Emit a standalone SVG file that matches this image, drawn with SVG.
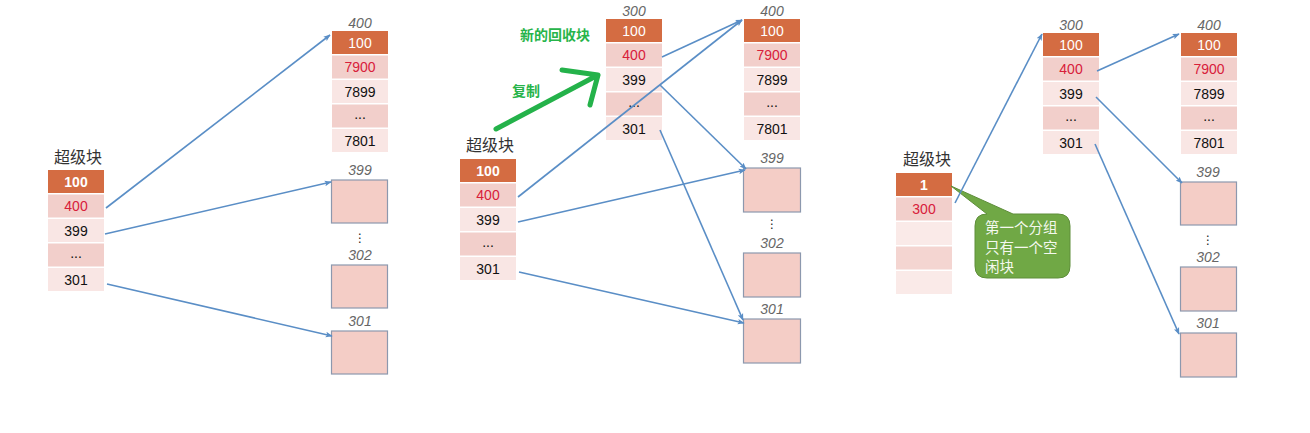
<svg xmlns="http://www.w3.org/2000/svg" width="1310" height="433" viewBox="0 0 1310 433">
<style>
.o{fill:#D46C42}
.m{fill:#F2CFCB}
.l{fill:#F9E6E4}
.box{fill:#F4CDC6;stroke:#8C98AE;stroke-width:1.2}
.t{font-family:"Liberation Sans","Noto Sans",sans-serif;font-size:14px;fill:#111;text-anchor:middle}
.w{fill:#fff}
.b{font-weight:bold}
.r{fill:#D8203A}
.lab{font-family:"Liberation Sans",sans-serif;font-size:14px;font-style:italic;fill:#666;text-anchor:middle}
.cjk{font-family:"Liberation Sans","Noto Sans CJK SC",sans-serif;font-size:16px;fill:#333;text-anchor:middle}
.dots{font-family:"DejaVu Sans",sans-serif;font-size:12px;fill:#222;text-anchor:middle}
.g{font-family:"Noto Sans CJK SC",sans-serif;font-size:14px;font-weight:bold;fill:#27B44A}
.c{stroke:#5A8EC6;stroke-width:1.6;fill:none;marker-end:url(#ah)}
.call{font-family:"Noto Sans CJK SC",sans-serif;font-size:14.5px;fill:#F4F8EE}
</style>
<defs>
<marker id="ah" viewBox="0 0 10 10" refX="9" refY="5" markerWidth="7" markerHeight="7" markerUnits="userSpaceOnUse" orient="auto">
<path d="M0,1 L10,5 L0,9 L2,5 Z" fill="#5A8EC6"/>
</marker>
</defs>

<!-- ===== LEFT ===== -->
<g id="left-super">
<text class="cjk" x="78" y="163">超级块</text>
<rect class="o" x="48" y="170" width="56" height="23"/><text class="t w b" x="76" y="186.5">100</text>
<rect class="m" x="48" y="194.5" width="56" height="23"/><text class="t r" x="76" y="211">400</text>
<rect class="l" x="48" y="219" width="56" height="23"/><text class="t" x="76" y="235.5">399</text>
<rect class="m" x="48" y="243.5" width="56" height="23"/><text class="t" x="76" y="258">...</text>
<rect class="l" x="48" y="268" width="56" height="23"/><text class="t" x="76" y="284.5">301</text>
</g>
<g id="left-400">
<text class="lab" x="360" y="28">400</text>
<rect class="o" x="332" y="31" width="56" height="23"/><text class="t w" x="360" y="47.5">100</text>
<rect class="m" x="332" y="55.5" width="56" height="23"/><text class="t r" x="360" y="72">7900</text>
<rect class="l" x="332" y="80" width="56" height="23"/><text class="t" x="360" y="96.5">7899</text>
<rect class="m" x="332" y="104.5" width="56" height="23"/><text class="t" x="360" y="119">...</text>
<rect class="l" x="332" y="129" width="56" height="23"/><text class="t" x="360" y="145.5">7801</text>
</g>
<g id="left-399"><text class="lab" x="360" y="175">399</text><rect class="box" x="331.5" y="180" width="56" height="43"/></g>
<text class="dots" x="360" y="242">⋮</text>
<g id="left-302"><text class="lab" x="360" y="260">302</text><rect class="box" x="331.5" y="265" width="56" height="43"/></g>
<g id="left-301"><text class="lab" x="360" y="326">301</text><rect class="box" x="331.5" y="331" width="56" height="43"/></g>

<!-- ===== MIDDLE ===== -->
<g id="mid-super">
<text class="cjk" x="490" y="151">超级块</text>
<rect class="o" x="460" y="159" width="56" height="23"/><text class="t w b" x="488" y="175.5">100</text>
<rect class="m" x="460" y="183.5" width="56" height="23"/><text class="t r" x="488" y="200">400</text>
<rect class="l" x="460" y="208" width="56" height="23"/><text class="t" x="488" y="224.5">399</text>
<rect class="m" x="460" y="232.5" width="56" height="23"/><text class="t" x="488" y="247">...</text>
<rect class="l" x="460" y="257" width="56" height="23"/><text class="t" x="488" y="273.5">301</text>
</g>
<g id="mid-300">
<text class="lab" x="634" y="16">300</text>
<rect class="o" x="606" y="19" width="56" height="23"/><text class="t w" x="634" y="35.5">100</text>
<rect class="m" x="606" y="43.5" width="56" height="23"/><text class="t r" x="634" y="60">400</text>
<rect class="l" x="606" y="68" width="56" height="23"/><text class="t" x="634" y="84.5">399</text>
<rect class="m" x="606" y="92.5" width="56" height="23"/><text class="t" x="634" y="107">...</text>
<rect class="l" x="606" y="117" width="56" height="23"/><text class="t" x="634" y="133.5">301</text>
</g>
<g id="mid-400">
<text class="lab" x="772" y="16">400</text>
<rect class="o" x="744" y="19" width="56" height="23"/><text class="t w" x="772" y="35.5">100</text>
<rect class="m" x="744" y="43.5" width="56" height="23"/><text class="t r" x="772" y="60">7900</text>
<rect class="l" x="744" y="68" width="56" height="23"/><text class="t" x="772" y="84.5">7899</text>
<rect class="m" x="744" y="92.5" width="56" height="23"/><text class="t" x="772" y="107">...</text>
<rect class="l" x="744" y="117" width="56" height="23"/><text class="t" x="772" y="133.5">7801</text>
</g>
<g id="mid-399"><text class="lab" x="772" y="163">399</text><rect class="box" x="743.5" y="168" width="57" height="44"/></g>
<text class="dots" x="772" y="228">⋮</text>
<g id="mid-302"><text class="lab" x="772" y="248">302</text><rect class="box" x="743.5" y="253" width="57" height="44"/></g>
<g id="mid-301"><text class="lab" x="772" y="314">301</text><rect class="box" x="743.5" y="319" width="57" height="44"/></g>
<g id="mid-notes">
<text class="g" x="520" y="40">新的回收块</text>
<text class="g" x="512" y="96">复制</text>
<path d="M496,129 L598,75 M562,70 L598,75 L590,105" fill="none" stroke="#24B24A" stroke-width="5" stroke-linecap="round" stroke-linejoin="round"/>
</g>

<!-- ===== RIGHT ===== -->
<g id="right-super">
<text class="cjk" x="927" y="165">超级块</text>
<rect class="o" x="896" y="173" width="56" height="23"/><text class="t w b" x="924" y="189.5">1</text>
<rect class="m" x="896" y="197.5" width="56" height="23"/><text class="t r" x="924" y="214">300</text>
<rect fill="#FAEAE8" x="896" y="222" width="56" height="23"/>
<rect fill="#F4D5D1" x="896" y="246.5" width="56" height="23"/>
<rect fill="#FAEAE8" x="896" y="271" width="56" height="23"/>
</g>
<g id="right-300">
<text class="lab" x="1071" y="30">300</text>
<rect class="o" x="1043" y="33" width="56" height="23"/><text class="t w" x="1071" y="49.5">100</text>
<rect class="m" x="1043" y="57.5" width="56" height="23"/><text class="t r" x="1071" y="74">400</text>
<rect class="l" x="1043" y="82" width="56" height="23"/><text class="t" x="1071" y="98.5">399</text>
<rect class="m" x="1043" y="106.5" width="56" height="23"/><text class="t" x="1071" y="121">...</text>
<rect class="l" x="1043" y="131" width="56" height="23"/><text class="t" x="1071" y="147.5">301</text>
</g>
<g id="right-400">
<text class="lab" x="1209" y="30">400</text>
<rect class="o" x="1181" y="33" width="56" height="23"/><text class="t w" x="1209" y="49.5">100</text>
<rect class="m" x="1181" y="57.5" width="56" height="23"/><text class="t r" x="1209" y="74">7900</text>
<rect class="l" x="1181" y="82" width="56" height="23"/><text class="t" x="1209" y="98.5">7899</text>
<rect class="m" x="1181" y="106.5" width="56" height="23"/><text class="t" x="1209" y="121">...</text>
<rect class="l" x="1181" y="131" width="56" height="23"/><text class="t" x="1209" y="147.5">7801</text>
</g>
<g id="right-399"><text class="lab" x="1208" y="177">399</text><rect class="box" x="1180.5" y="182" width="56" height="43"/></g>
<text class="dots" x="1208" y="244">⋮</text>
<g id="right-302"><text class="lab" x="1208" y="262">302</text><rect class="box" x="1180.5" y="267" width="56" height="44"/></g>
<g id="right-301"><text class="lab" x="1208" y="328">301</text><rect class="box" x="1180.5" y="333" width="56" height="44"/></g>
<g id="callout">
<path d="M987,214 L951,186 L1013,214 L1058,214 Q1070,214 1070,226 L1070,266 Q1070,278 1058,278 L987,278 Q975,278 975,266 L975,226 Q975,214 987,214 Z" fill="#70A845" stroke="#5E8E3A" stroke-width="1"/>
<text class="call" x="985" y="233">第一个分组</text>
<text class="call" x="985" y="252.5">只有一个空</text>
<text class="call" x="985" y="272">闲块</text>
</g>

<!-- ===== CONNECTORS ===== -->
<g id="connectors">
<line class="c" x1="106" y1="208" x2="330" y2="35"/>
<line class="c" x1="105" y1="234" x2="331" y2="182"/>
<line class="c" x1="107" y1="284" x2="332" y2="336"/>

<line class="c" x1="518" y1="197" x2="742" y2="20"/>
<line class="c" x1="518" y1="222" x2="745" y2="170"/>
<line class="c" x1="519" y1="272" x2="744" y2="323"/>
<line class="c" x1="662" y1="57" x2="742" y2="20"/>
<line class="c" x1="660" y1="85" x2="746" y2="169"/>
<line class="c" x1="660" y1="130" x2="743" y2="320"/>

<line class="c" x1="955" y1="203" x2="1042" y2="34"/>
<line class="c" x1="1097" y1="71" x2="1179" y2="34"/>
<line class="c" x1="1096" y1="97" x2="1182" y2="183"/>
<line class="c" x1="1095" y1="144" x2="1179" y2="334"/>
</g>
</svg>
